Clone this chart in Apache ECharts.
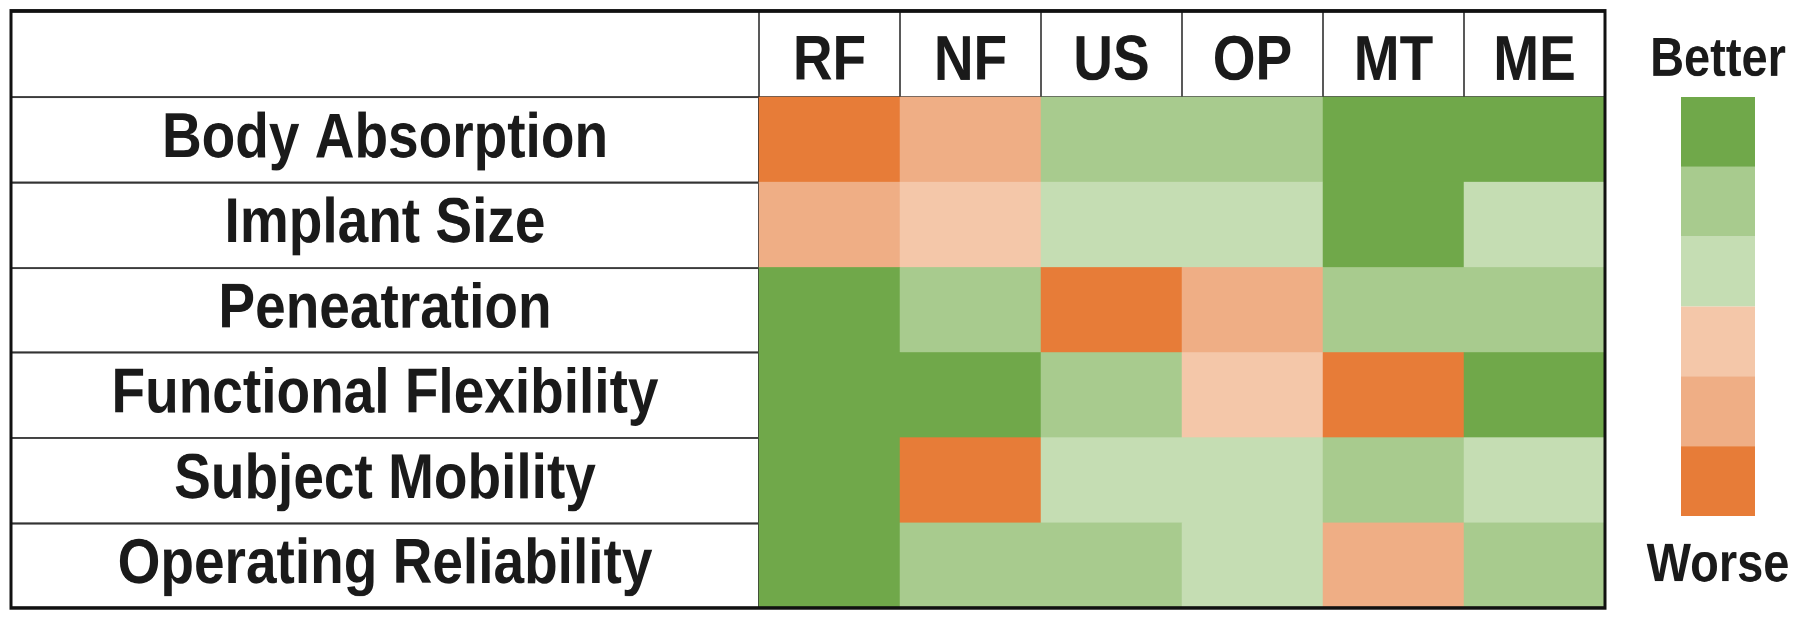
<!DOCTYPE html>
<html><head><meta charset="utf-8">
<script src="https://cdn.jsdelivr.net/npm/echarts@6/dist/echarts.min.js"></script>
<style>
html,body{margin:0;padding:0;background:#fff}
#wrap{width:1800px;height:624px;position:relative}
/* the reference lettering is a condensed face: draw at 1800x540 and stretch vertically to 624 */
#c{position:absolute;left:0;top:0;width:1800px;height:540px;transform:scaleY(1.155556);transform-origin:0 0}
</style>
</head><body><div id="wrap"><div id="c"></div></div>
<script>
// ---- data ----
const columns = ['RF', 'NF', 'US', 'OP', 'MT', 'ME'];
const rowLabels = ['Body Absorption', 'Implant Size', 'Peneatration', 'Functional Flexibility', 'Subject Mobility', 'Operating Reliability'];
// rating per column (RF..ME): 1 = worse ... 6 = better
const bodyAbsorption        = [1, 2, 5, 5, 6, 6];
const implantSize           = [2, 3, 4, 4, 6, 4];
const peneatration          = [6, 5, 1, 2, 5, 5];
const functionalFlexibility = [6, 6, 5, 3, 1, 6];
const subjectMobility       = [6, 1, 4, 4, 5, 4];
const operatingReliability  = [6, 5, 5, 4, 2, 5];
const levels = [1, 2, 3, 4, 5, 6];
const legendEnds = ['Better', 'Worse'];

// ---- styles ----
const levelColors = ['#E77C38', '#EFAE85', '#F4C7A9', '#C5DDB3', '#A8CB8E', '#70A84A'];
const ink = '#1a1a1a';
const font = 'Liberation Sans';

const ratingRows = [bodyAbsorption, implantSize, peneatration, functionalFlexibility, subjectMobility, operatingReliability];
const heat = [];
ratingRows.forEach((r, i) => r.forEach((v, j) => heat.push([j, i, v])));

const chart = echarts.init(document.getElementById('c'), null, { renderer: 'canvas', devicePixelRatio: 2 });
chart.setOption({
  animation: false,
  backgroundColor: '#fff',
  grid: [
    { left: 759, top: 83.94, width: 846, height: 442.2, outerBoundsMode: 'none', containLabel: false },
    { left: 11, top: 9.52, width: 1594, height: 516.6, outerBoundsMode: 'none', containLabel: false,
      show: true, borderColor: '#111', borderWidth: 3, backgroundColor: 'rgba(0,0,0,0)', z: 10 }
  ],
  xAxis: [
    { type: 'category', gridIndex: 0, data: columns, position: 'top',
      axisLine: { show: true, lineStyle: { color: '#333', width: 1.75 } },
      axisTick: { show: true, length: 74.42, lineStyle: { color: '#222', width: 1.5 } },
      axisLabel: { interval: 0, fontSize: 55, fontWeight: 'bold', color: ink, fontFamily: font, margin: 30, verticalAlign: 'middle' },
      splitLine: { show: false } },
    { type: 'value', gridIndex: 1, show: false, min: 0, max: 1 }
  ],
  yAxis: [
    { type: 'category', gridIndex: 0, data: rowLabels, inverse: true,
      axisLine: { show: true, lineStyle: { color: '#333', width: 2 } },
      axisTick: { show: true, length: 748, lineStyle: { color: '#333', width: 1.75 } },
      axisLabel: { interval: 0, fontSize: 55, fontWeight: 'bold', color: ink, fontFamily: font, margin: 374, align: 'center', padding: [8, 0, 0, 0] },
      splitLine: { show: false } },
    { type: 'value', gridIndex: 1, show: false, min: 0, max: 1 }
  ],
  visualMap: {
    type: 'piecewise', seriesIndex: 0, orient: 'vertical',
    pieces: levels.map((v, i) => ({ value: v, color: levelColors[i] })),
    itemSymbol: 'rect', itemWidth: 74, itemHeight: 60.43, itemGap: 0,
    showLabel: false, selectedMode: false, hoverLink: false,
    padding: 0, left: 1681, top: 83.94
  },
  graphic: [
    { type: 'text', x: 1718, y: 52.3, silent: true,
      style: { text: legendEnds[0], fill: ink, font: 'bold 47px "Liberation Sans"', textAlign: 'center', textVerticalAlign: 'middle' } },
    { type: 'text', x: 1718, y: 490.2, silent: true,
      style: { text: legendEnds[1], fill: ink, font: 'bold 47px "Liberation Sans"', textAlign: 'center', textVerticalAlign: 'middle' } }
  ],
  series: [{
    type: 'heatmap', xAxisIndex: 0, yAxisIndex: 0, data: heat,
    itemStyle: { borderWidth: 0 },
    emphasis: { disabled: true }, silent: true
  }]
});
</script></body></html>
